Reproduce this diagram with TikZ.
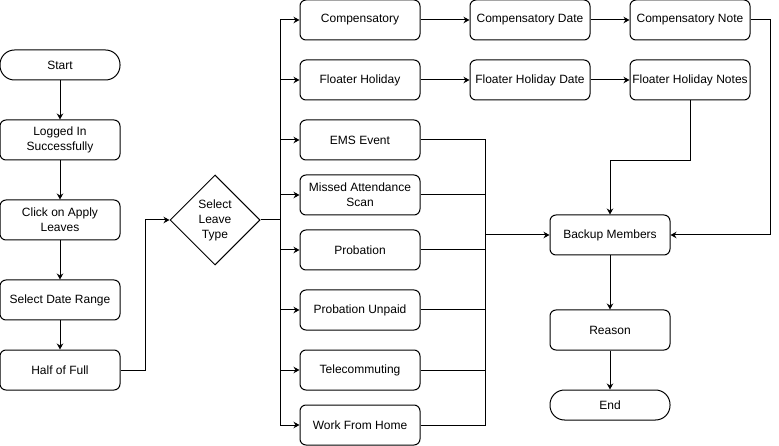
\documentclass[tikz,border=0pt]{standalone}
\usepackage{fontspec}
\setmainfont{Liberation Sans}
\usetikzlibrary{arrows.meta, shapes.geometric}

\begin{document}
\begin{tikzpicture}[
  x=1pt, y=-1pt,
  font=\fontsize{12}{15}\selectfont,
  box/.style={rectangle, rounded corners=6pt, draw, align=center, line width=1pt,
              minimum width=120pt, minimum height=40pt, inner sep=0pt},
  term/.style={rectangle, rounded corners=14.5pt, draw, align=center, line width=1pt,
               minimum width=120pt, minimum height=30pt, inner sep=0pt},
  dec/.style={diamond, draw, align=center, line width=1pt, aspect=1,
              minimum width=90pt, minimum height=90pt, inner sep=0pt},
  link/.style={line width=1pt},
  arr/.style={-{Stealth[length=6pt, width=6.5pt]}, line width=1pt}
]
\useasboundingbox (0,0) rectangle (779,446);
% login and request steps (left column)
\node[term] (start) at (60,65)  {Start};
\node[box]  (login) at (60,140) {Logged In\\ Successfully};
\node[box]  (apply) at (60,220) {Click on Apply\\ Leaves};
\node[box]  (range) at (60,300) {Select Date Range};
\node[box]  (half)  at (60,370) {Half of Full};
\node[dec]  (sel)   at (215,220) {Select\\ Leave\\ Type};
% leave types
\node[box] (comp)   at (360,20)  {Compensatory};
\node[box] (flt)    at (360,80)  {Floater Holiday};
\node[box] (ems)    at (360,140) {EMS Event};
\node[box] (missed) at (360,195) {Missed Attendance\\ Scan};
\node[box] (prob)   at (360,250) {Probation};
\node[box] (unpaid) at (360,310) {Probation Unpaid};
\node[box] (tele)   at (360,370) {Telecommuting};
\node[box] (wfh)    at (360,425) {Work From Home};
% extra details for compensatory and floater leave
\node[box] (compdate) at (530,20) {Compensatory Date};
\node[box] (compnote) at (690,20) {Compensatory Note};
\node[box] (fltdate)  at (530,80) {Floater Holiday Date};
\node[box] (fltnote)  at (690,80) {Floater Holiday Notes};
% closing steps
\node[box]  (backup) at (610,235) {Backup Members};
\node[box]  (reason) at (610,330) {Reason};
\node[term] (end)    at (610,405) {End};
\coordinate (trunk) at (280,220);
\coordinate (merge) at (485,235);

\draw[arr] (start) -- (login);
\draw[arr] (login) -- (apply);
\draw[arr] (apply) -- (range);
\draw[arr] (range) -- (half);
\draw[arr] (half.east) -- ++(25,0) |- (sel.west);
\draw[link] (sel.east) -- (trunk);
\draw[arr] (trunk) |- (comp.west);
\draw[arr] (trunk) |- (flt.west);
\draw[arr] (trunk) |- (ems.west);
\draw[arr] (trunk) |- (missed.west);
\draw[arr] (trunk) |- (prob.west);
\draw[arr] (trunk) |- (unpaid.west);
\draw[arr] (trunk) |- (tele.west);
\draw[arr] (trunk) |- (wfh.west);
\draw[arr] (comp) -- (compdate);
\draw[arr] (compdate) -- (compnote);
\draw[arr] (flt) -- (fltdate);
\draw[arr] (fltdate) -- (fltnote);
\draw[link] (ems.east) -| (merge);
\draw[link] (missed.east) -| (merge);
\draw[link] (prob.east) -| (merge);
\draw[link] (unpaid.east) -| (merge);
\draw[link] (tele.east) -| (merge);
\draw[link] (wfh.east) -| (merge);
\draw[arr] (merge) -- (backup.west);
\draw[arr] (compnote.east) -- ++(20,0) |- (backup.east);
\draw[arr] (fltnote.south) -- ++(0,60) -| (backup.north);
\draw[arr] (backup) -- (reason);
\draw[arr] (reason) -- (end);
\end{tikzpicture}
\end{document}
